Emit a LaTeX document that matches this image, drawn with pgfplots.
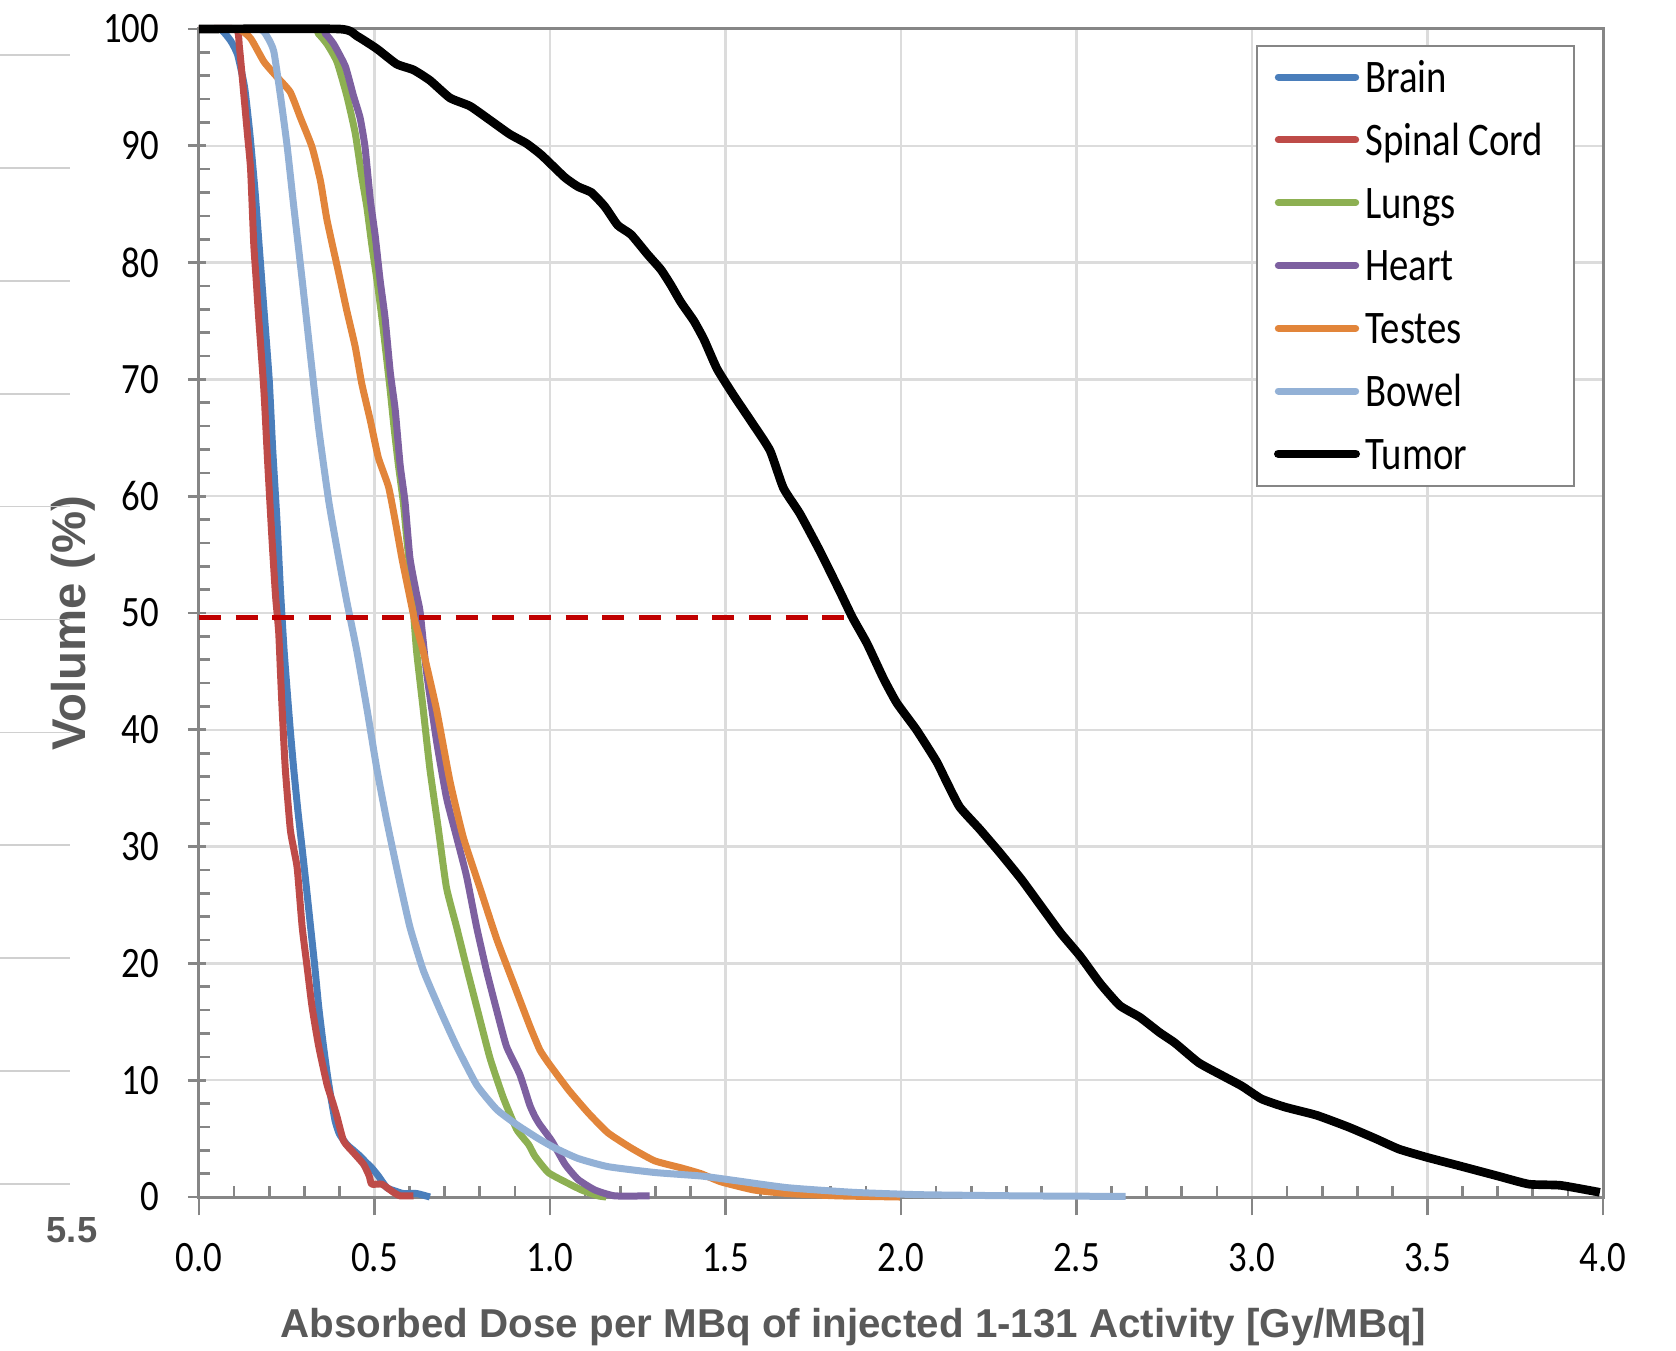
\documentclass[border=0pt]{standalone}
\usepackage{fontspec}
\setmainfont{Carlito}
\newfontfamily\tickfont[FakeStretch=0.85]{Carlito}
\newfontfamily\legfont[FakeStretch=0.83]{Carlito}
\newfontfamily\labfont{Liberation Sans}
\usepackage{pgfplots}
\pgfplotsset{compat=1.18}
\definecolor{cBrain}{HTML}{4A7EBB}
\definecolor{cSpinal}{HTML}{BE4B48}
\definecolor{cLungs}{HTML}{8DB052}
\definecolor{cHeart}{HTML}{7D60A0}
\definecolor{cTestes}{HTML}{E2853A}
\definecolor{cBowel}{HTML}{93B1D6}
\definecolor{axgray}{HTML}{868686}
\definecolor{gridgray}{HTML}{DCDCDC}
\definecolor{labgray}{HTML}{595959}
\definecolor{dashred}{HTML}{C00000}
\definecolor{sidegray}{HTML}{D0D0D0}
\begin{document}
\begin{tikzpicture}
\useasboundingbox (-59.7pt,-45.9pt) rectangle (443.1pt,359.1pt);
\begin{axis}[
  at={(0,0)}, anchor=south west,
  scale only axis, width=421.2pt, height=350.4pt,
  xmin=0, xmax=4, ymin=0, ymax=100,
  clip=false,
  xtick={0,0.5,...,4}, ytick={0,10,...,100},
  minor x tick num=4, minor y tick num=4,
  tick pos=left,
  grid=major,
  major grid style={gridgray, line width=0.7pt},
  axis line style={axgray, line width=0.9pt},
  tick style={axgray, line width=0.8pt},
  tick align=inside,
  major tick length=5.5pt,
  minor tick length=3.3pt,
  major x tick style={yshift=-5.5pt},
  major y tick style={xshift=-3.3pt},
  /pgf/number format/assume math mode=true,
  tick label style={font=\tickfont\fontsize{13pt}{15pt}\selectfont, text=black},
  yticklabel style={anchor=east, inner sep=0pt, xshift=-11.7pt},
  xticklabel style={anchor=north, inner sep=0pt, yshift=-13.8pt,
    /pgf/number format/.cd, fixed, fixed zerofill, precision=1},
  xlabel={Absorbed Dose per MBq of injected 1-131 Activity [Gy/MBq]},
  xlabel style={at={(axis description cs:0.4658,-0.1207)}, anchor=base, inner sep=0pt,
    font=\labfont\bfseries\fontsize{12.1pt}{14pt}\selectfont, text=labgray},
  ylabel={Volume (\%)},
  ylabel style={at={(axis description cs:-0.0897,0.4914)}, anchor=center, inner sep=0pt,
    font=\labfont\bfseries\fontsize{14.2pt}{16pt}\selectfont, text=labgray},
  legend style={at={(rel axis cs:0.75285,0.98630)}, anchor=north west,
    draw=axgray, line width=0.6pt, fill=white,
    inner xsep=5.1pt, inner ysep=0pt, row sep=0pt, column sep=1.6pt,
    font=\legfont\fontsize{14pt}{16pt}\selectfont,
    nodes={inner sep=0pt, text height=13.92pt, text depth=4.92pt, text width=57.5pt, align=left, anchor=base west}},
  legend cell align=left,
  legend image code/.code={\draw[line cap=round] (0pt,4.6pt) -- (23.2pt,4.6pt);},
  every axis plot/.append style={line join=round, smooth, tension=0.3},
]
\addplot[cBrain, line width=2.1pt] coordinates {
(0,100)(0.06,100)(0.09,99)(0.11,97.8)(0.13,95)(0.145,91)(0.16,86)(0.17,82)(0.185,76)(0.2,70)(0.21,64)(0.222,58)(0.232,52)(0.242,47)(0.251,43.4)(0.26,40)(0.27,36.6)(0.282,33)(0.294,29.8)(0.306,26.5)(0.318,23.1)(0.33,19.7)(0.341,16.3)(0.353,13.3)(0.365,10.6)(0.376,8.5)(0.388,6.5)(0.40,5.4)(0.421,4.5)(0.44,4.0)(0.459,3.5)(0.475,3.0)(0.492,2.5)(0.511,1.8)(0.535,0.8)(0.56,0.5)(0.582,0.3)(0.62,0.3)(0.658,0)
};
\addlegendentry{Brain}
\addplot[cSpinal, line width=2.1pt] coordinates {
(0,100)(0.105,100)(0.115,98.5)(0.128,94.3)(0.138,91)(0.147,88)(0.156,81.6)(0.163,78.5)(0.17,75.3)(0.185,69)(0.196,62.7)(0.208,56.3)(0.218,51.5)(0.227,48.4)(0.232,45)(0.237,41.7)(0.246,36.6)(0.26,31.5)(0.27,29.8)(0.28,28.1)(0.294,23.1)(0.308,19.7)(0.322,16.3)(0.341,12.9)(0.365,9.6)(0.38,8.2)(0.393,6.9)(0.412,4.8)(0.44,3.8)(0.469,2.8)(0.485,1.8)(0.492,1.1)(0.521,1.1)(0.554,0.4)(0.573,0.1)(0.611,0.1)
};
\addlegendentry{\mbox{Spinal\hspace{2.6pt}Cord}}
\addplot[cLungs, line width=2.1pt] coordinates {
(0,100)(0.317,100)(0.34,99.6)(0.365,98.7)(0.393,97.2)(0.421,94.3)(0.445,91.1)(0.464,87.3)(0.478,84.8)(0.492,81.6)(0.507,78.5)(0.521,75.3)(0.533,72.2)(0.545,69)(0.556,65.8)(0.568,62.7)(0.582,59.5)(0.592,56.3)(0.603,53.2)(0.61,50.5)(0.62,46.7)(0.639,41.7)(0.658,36.6)(0.682,31.5)(0.705,26.5)(0.734,23.1)(0.762,19.7)(0.791,16.3)(0.829,11.9)(0.867,8.5)(0.905,5.8)(0.939,4.5)(0.957,3.5)(0.995,2.1)(1.043,1.3)(1.09,0.6)(1.137,0.1)(1.16,0)
};
\addlegendentry{Lungs}
\addplot[cHeart, line width=2.1pt] coordinates {
(0,100)(0.336,100)(0.36,99.6)(0.384,98.7)(0.417,96.8)(0.44,94.3)(0.459,92.4)(0.473,89.9)(0.488,85.4)(0.502,82.3)(0.516,78.5)(0.53,75.3)(0.545,70.6)(0.559,67.4)(0.573,62.7)(0.587,59.5)(0.601,54.7)(0.62,51.6)(0.63,50.1)(0.648,45)(0.677,39)(0.705,34.2)(0.734,30.8)(0.762,27.5)(0.791,23.1)(0.819,19.4)(0.848,16)(0.876,12.9)(0.914,10.5)(0.942,7.9)(0.957,6.9)(0.971,6.2)(1.005,4.8)(1.043,2.8)(1.08,1.5)(1.128,0.6)(1.184,0.1)(1.284,0.1)
};
\addlegendentry{Heart}
\addplot[cTestes, line width=2.1pt] coordinates {
(0,100)(0.11,100)(0.147,99.2)(0.185,97.2)(0.222,95.9)(0.26,94.6)(0.289,92.4)(0.322,89.9)(0.346,87)(0.365,83.6)(0.398,79.1)(0.421,75.9)(0.445,72.8)(0.464,69.6)(0.488,66.5)(0.511,63.3)(0.54,60.8)(0.559,57.9)(0.578,54.7)(0.597,51.9)(0.615,49.3)(0.639,46.7)(0.677,41.7)(0.715,35.6)(0.753,30.8)(0.8,26.5)(0.848,22.1)(0.896,18.3)(0.943,14.6)(0.971,12.6)(0.995,11.5)(1.052,9.2)(1.109,7.2)(1.165,5.5)(1.231,4.2)(1.298,3.1)(1.373,2.5)(1.43,2.0)(1.487,1.3)(1.581,0.6)(1.676,0.3)(1.818,0.1)(1.997,0)
};
\addlegendentry{Testes}
\addplot[cBowel, line width=2.1pt] coordinates {
(0,100)(0.17,100)(0.195,99.3)(0.213,98.1)(0.232,94.3)(0.251,90)(0.27,84.8)(0.294,78.5)(0.317,72.2)(0.341,65.8)(0.37,59.5)(0.398,54.7)(0.421,51)(0.45,46.7)(0.479,41.7)(0.507,36.6)(0.535,32.2)(0.568,27.5)(0.601,23.1)(0.639,19.4)(0.687,16)(0.734,12.9)(0.791,9.6)(0.848,7.5)(0.905,6.2)(0.967,5.0)(1.014,4.2)(1.08,3.3)(1.165,2.6)(1.298,2.1)(1.43,1.8)(1.506,1.5)(1.676,0.8)(1.865,0.4)(2.054,0.2)(2.337,0.1)(2.64,0.05)
};
\addlegendentry{Bowel}
\addplot[black, line width=2.6pt] coordinates {
(0,100)(0.40,100)(0.45,99.4)(0.507,98.3)(0.563,97)(0.611,96.5)(0.658,95.6)(0.715,94.1)(0.772,93.4)(0.829,92.2)(0.885,91)(0.933,90.2)(0.976,89.2)(1.042,87.3)(1.08,86.5)(1.118,86)(1.156,84.8)(1.193,83.2)(1.231,82.4)(1.278,80.7)(1.316,79.4)(1.344,78.1)(1.373,76.6)(1.41,75)(1.439,73.4)(1.476,70.9)(1.524,68.6)(1.58,66.1)(1.627,63.9)(1.665,60.7)(1.712,58.5)(1.769,55.3)(1.825,51.9)(1.862,49.6)(1.903,47.4)(1.95,44.4)(1.988,42.3)(2.044,40)(2.101,37.3)(2.129,35.6)(2.167,33.4)(2.224,31.5)(2.281,29.5)(2.343,27.2)(2.399,24.9)(2.455,22.6)(2.511,20.6)(2.567,18.3)(2.623,16.4)(2.68,15.4)(2.736,14.1)(2.78,13.2)(2.848,11.5)(2.915,10.4)(2.971,9.5)(3.027,8.4)(3.094,7.7)(3.184,7.0)(3.274,6.0)(3.352,5.0)(3.419,4.1)(3.498,3.4)(3.587,2.7)(3.7,1.8)(3.789,1.1)(3.879,1.0)(3.991,0.4)
};
\addlegendentry{Tumor}
\addplot[dashred, line width=1.6pt, sharp plot, dash pattern=on 6.6pt off 4.4pt, forget plot] coordinates {(0,49.6)(1.865,49.6)};
\end{axis}
\foreach \k in {0,...,10} {
  \pgfmathsetmacro\yy{(1142-112.9*\k)*0.3}
  \draw[sidegray, line width=0.5pt] (-59.7pt,\yy pt) -- (-38.7pt,\yy pt);
}
\node[font=\labfont\bfseries\fontsize{10.9pt}{12pt}\selectfont, text=labgray, inner sep=0pt, anchor=center] at (-38.1pt,-9.9pt) {5.5};
\end{tikzpicture}
\end{document}
